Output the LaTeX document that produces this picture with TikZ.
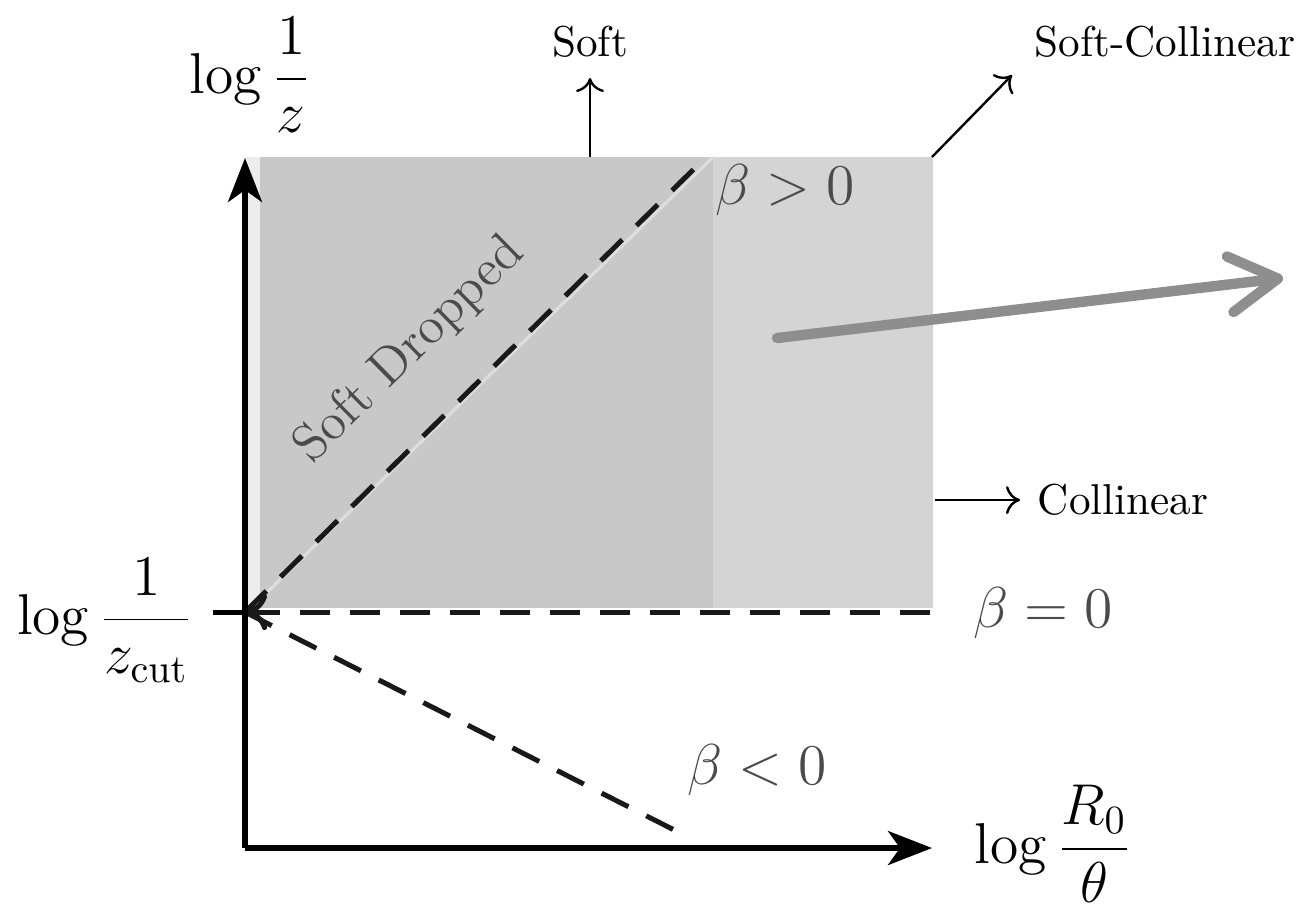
\documentclass[tikz,border=0pt]{standalone}
\usetikzlibrary{arrows.meta}
\definecolor{regdark}{HTML}{C8C8C8}
\definecolor{reglight}{HTML}{D4D4D4}
\definecolor{regstrip}{HTML}{EDEDED}
\definecolor{seam}{HTML}{DDDDDD}
\definecolor{bigarrow}{HTML}{8E8E8E}
\definecolor{labgray}{HTML}{4A4A4A}
\begin{document}
\begin{tikzpicture}[x=0.25pt,y=-0.25pt,
  axis/.style={line width=1.3pt,-{Stealth[length=11pt,width=8.5pt,inset=3pt]}},
  dashline/.style={line width=1.25pt,dash pattern=on 7.5pt off 5pt,black!85},
  smallarrow/.style={line width=0.6pt,-{To[length=3.5pt,width=7pt]}},
  txt/.style={font=\fontsize{10.8}{13}\selectfont,inner sep=0pt},
  mlab/.style={font=\Large,inner sep=0pt},
  blab/.style={font=\Large,text=labgray,inner sep=0pt}]
\useasboundingbox (0,0) rectangle (1302,904);
% regions
\fill[regstrip] (245,157) rectangle (260,608);
\fill[regdark] (260,157) rectangle (713,608);
\fill[reglight] (713,157) rectangle (933,608);
\draw[seam,line width=0.8pt] (252,607) -- (713,157);
% coordinates
\coordinate (O) at (245,848);
\coordinate (Ytip) at (245,158);
\coordinate (Xtip) at (932,848);
\coordinate (Z) at (245,612);
\coordinate (Ztick) at (213,612);
\coordinate (Zend) at (935,612);
\coordinate (Dend) at (705,158);
\coordinate (Nend) at (690,838);
\coordinate (Dot) at (703,848);
% dashed lines
\draw[dashline,black!90] (Z) -- (Dend);
\draw[dashline,black!90] (Z) -- (Nend);
\draw[dashline,black!90,{To[length=5.5pt,width=9pt]}-] (Z) -- (Zend);
\draw[line width=1.25pt] (Ztick) -- (Z);
% axes
\draw[axis] (O) -- (Ytip);
\draw[axis] (O) -- (Xtip);
\fill (Dot) circle (2.5);
% region arrows
\coordinate (Sbase) at (590,157);
\coordinate (Send) at (590,78);
\node[txt] (soft) at (590,42) {Soft};
\draw[smallarrow] (Sbase) -- (Send);
\coordinate (SCbase) at (932,157);
\coordinate (SCend) at (1012,75);
\node[txt] (softcol) at (1165,42) {Soft-Collinear};
\draw[smallarrow] (SCbase) -- (SCend);
\coordinate (Cbase) at (935,500);
\coordinate (Cend) at (1020,500);
\node[txt,anchor=west] (col) at (1037,500) {Collinear};
\draw[smallarrow] (Cbase) -- (Cend);
% big gray arrow
\coordinate (Gstart) at (777,338);
\coordinate (Gend) at (1283,278);
\draw[bigarrow,line width=2.6pt,line cap=round,-{Straight Barb[length=12pt,width=14pt,round]}] (Gstart) -- (Gend);
% labels
\node[mlab] (ylab) at (250,75) {$\displaystyle\log\frac{1}{z}$};
\node[mlab] (zcut) at (105,620) {$\displaystyle\log\frac{1}{z_{\mathrm{cut}}}$};
\node[mlab] (xlab) at (1053,844) {$\displaystyle\log\frac{R_0}{\theta}$};
\node[blab] (bpos) at (785,190) {$\beta>0$};
\node[blab] (bzero) at (1043,613) {$\beta=0$};
\node[blab] (bneg) at (757,770) {$\beta<0$};
\node[rotate=44.5,font=\fontsize{13}{15}\selectfont,text=labgray,inner sep=0pt] (sd) at (410,350) {Soft Dropped};
\end{tikzpicture}
\end{document}
